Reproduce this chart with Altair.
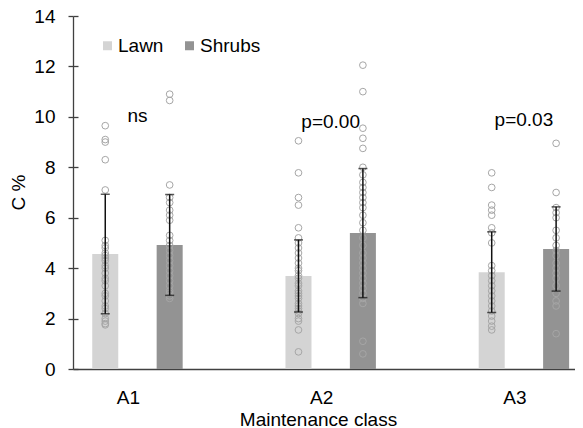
import altair as alt
import pandas as pd

classes = ["A1", "A2", "A3"]
series = ["Lawn", "Shrubs"]

# individual observations (C %)
a1_lawn = [9.65, 9.1, 9.0, 8.3, 7.1, 5.1, 4.9, 4.8, 4.6, 4.5, 4.4, 4.3, 4.1, 4.0,
           3.8, 3.6, 3.5, 3.3, 3.0, 2.9, 2.7, 2.5, 2.4, 2.2, 2.0, 1.9, 1.8, 1.75]
a1_shrubs = [10.9, 10.65, 7.3, 6.8, 6.6, 6.3, 6.1, 5.9, 5.3, 5.1, 4.9, 4.7, 4.5,
             4.3, 4.1, 3.9, 3.7, 3.5, 3.3, 3.1, 3.0, 2.9, 2.8]
a2_lawn = [9.05, 7.78, 6.8, 6.5, 5.6, 5.2, 5.0, 4.8, 4.6, 4.4, 4.2, 4.0, 3.9, 3.7,
           3.6, 3.4, 3.3, 3.1, 3.0, 2.9, 2.8, 2.6, 2.5, 2.4, 2.3, 2.2, 2.0, 1.9,
           1.55, 0.68]
a2_shrubs = [12.05, 11.0, 9.55, 9.15, 8.75, 8.0, 7.7, 7.4, 7.2, 7.0, 6.8, 6.6, 6.4,
             6.1, 5.8, 5.5, 5.2, 4.9, 4.6, 4.4, 4.2, 4.0, 3.8, 3.6, 3.4, 3.2, 3.0,
             2.8, 2.6, 1.1, 0.6]
a3_lawn = [7.78, 7.2, 6.5, 6.3, 6.1, 5.6, 5.4, 5.0, 4.1, 3.9, 3.7, 3.5, 3.3, 3.1,
           2.9, 2.7, 2.5, 2.3, 2.1, 1.9, 1.7, 1.55]
a3_shrubs = [8.95, 7.0, 6.4, 6.2, 6.0, 5.5, 5.2, 4.9, 4.7, 4.5, 4.2, 4.0, 3.8, 3.6,
             3.3, 3.0, 2.7, 2.5, 1.4]

# bar means and standard deviations
mean_lawn = [4.56, 3.69, 3.84]
mean_shrubs = [4.92, 5.39, 4.76]
sd_lawn = [2.37, 1.43, 1.60]
sd_shrubs = [2.00, 2.56, 1.67]

# significance labels
sig_labels = ["ns", "p=0.00", "p=0.03"]
sig_y = [9.80, 9.56, 9.64]

y_ticks = [0, 2, 4, 6, 8, 10, 12, 14]

# ---- tables ----
obs = {("A1", "Lawn"): a1_lawn, ("A1", "Shrubs"): a1_shrubs,
       ("A2", "Lawn"): a2_lawn, ("A2", "Shrubs"): a2_shrubs,
       ("A3", "Lawn"): a3_lawn, ("A3", "Shrubs"): a3_shrubs}
pts = pd.DataFrame([{"cls": c, "series": s, "v": v}
                    for (c, s), vals in obs.items() for v in vals])

rows = []
for i, c in enumerate(classes):
    rows.append({"cls": c, "series": "Lawn", "mean": mean_lawn[i], "sd": sd_lawn[i]})
    rows.append({"cls": c, "series": "Shrubs", "mean": mean_shrubs[i], "sd": sd_shrubs[i]})
bars = pd.DataFrame(rows)
bars["lo"] = bars["mean"] - bars["sd"]
bars["hi"] = bars["mean"] + bars["sd"]

sig = pd.DataFrame({"cls": classes, "label": sig_labels, "ty": sig_y})

FONT = "Liberation Sans"
W, H = 502, 353
AX = "#404040"

yscale = alt.Scale(domain=[0, 14], nice=False, zero=True)
X = alt.X("cls:N", sort=classes,
          scale=alt.Scale(paddingInner=0.5, paddingOuter=0.049, align=0.853),
          axis=alt.Axis(title="Maintenance class", ticks=False, labelAngle=0,
                        labelFontSize=19, labelColor="#000", labelPadding=19,
                        labelOffset=-9, domainColor=AX, domainWidth=1.3,
                        titleFontSize=19, titleFontWeight="normal", titleColor="#000",
                        titleBaseline="alphabetic", titleY=56, titleX=245))
XO = alt.XOffset("series:N", sort=series,
                 scale=alt.Scale(paddingInner=0.596, paddingOuter=0.048))

bar_layer = alt.Chart(bars).mark_bar().encode(
    x=X, xOffset=XO,
    y=alt.Y("mean:Q", scale=yscale,
            axis=alt.Axis(values=y_ticks, grid=False, tickSize=5, labelPadding=13,
                          labelFontSize=19, labelColor="#000", domainColor=AX,
                          tickColor=AX, domainWidth=1.3, tickWidth=1.3,
                          title="C %", titleFontSize=19, titleFontWeight="normal",
                          titleColor="#000", titleX=-54.5, titleY=176,
                          titleBaseline="middle", titleAlign="center")),
    color=alt.Color("series:N", sort=series,
                    scale=alt.Scale(domain=series, range=["#d4d4d4", "#939393"]),
                    legend=alt.Legend(title=None, orient="none", legendX=25, legendY=20,
                                      direction="horizontal", symbolType="square",
                                      symbolSize=81, symbolStrokeWidth=0,
                                      labelFontSize=19, labelColor="#000",
                                      labelOffset=1, columnPadding=16, padding=0)),
)

pt_layer = alt.Chart(pts).mark_point(shape="circle", filled=False, size=45,
                                     strokeWidth=1, color="#a6a6a6", opacity=1).encode(
    x=X, xOffset=XO, y=alt.Y("v:Q", scale=yscale, axis=None))

rule_layer = alt.Chart(bars).mark_rule(color="#111", strokeWidth=1.5).encode(
    x=X, xOffset=XO,
    y=alt.Y("lo:Q", scale=yscale,
            axis=alt.Axis(orient="right", offset=-W, labels=False, domain=False,
                          grid=False, values=y_ticks, tickSize=5, tickColor=AX,
                          tickWidth=1.3, title="")),
    y2="hi:Q")

cap_lo = alt.Chart(bars).mark_tick(color="#111", thickness=1.5, size=9,
                                   orient="horizontal").encode(
    x=X, xOffset=XO, y=alt.Y("lo:Q", scale=yscale, axis=None))
cap_hi = alt.Chart(bars).mark_tick(color="#111", thickness=1.5, size=9,
                                   orient="horizontal").encode(
    x=X, xOffset=XO, y=alt.Y("hi:Q", scale=yscale, axis=None))

txt = alt.Chart(sig).mark_text(fontSize=19, color="#000", baseline="alphabetic",
                               align="center").encode(
    x=X, y=alt.Y("ty:Q", scale=yscale, axis=None), text="label:N")

chart = alt.layer(bar_layer, pt_layer, rule_layer, cap_lo, cap_hi, txt).resolve_axis(
    y="independent"
).properties(
    width=W, height=H,
    autosize=alt.AutoSizeParams(type="none"),
    padding={"left": 65, "top": 8, "right": 0, "bottom": 61},
).configure(font=FONT).configure_view(stroke=None)

chart.save("out.html", embed_options={"renderer": "svg", "actions": False})
